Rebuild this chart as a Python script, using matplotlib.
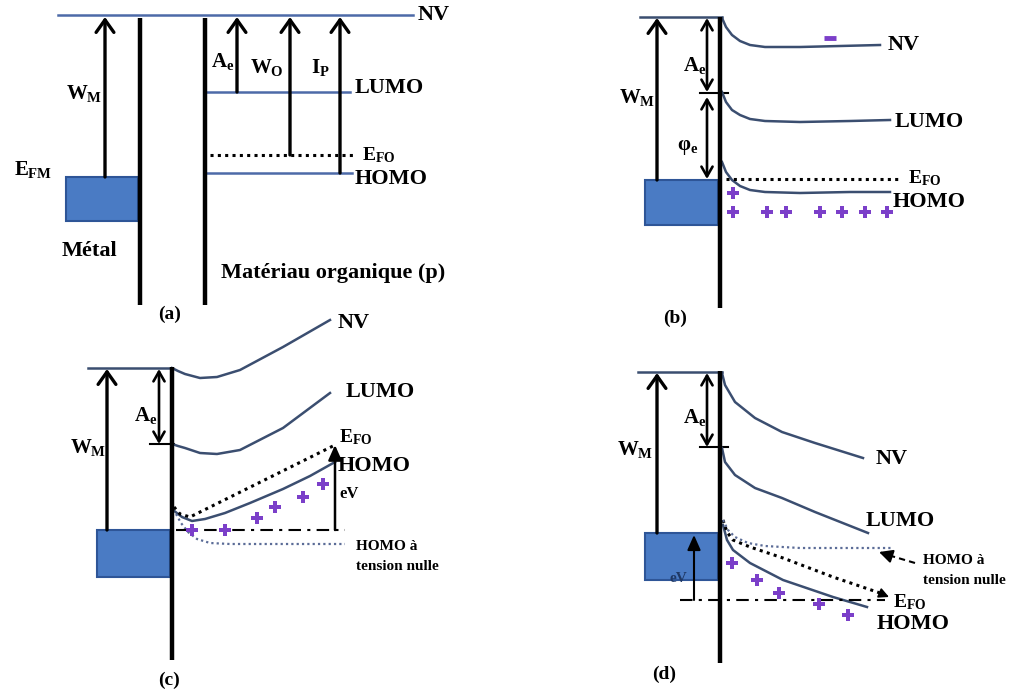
import matplotlib.pyplot as plt

plt.rcParams['font.family'] = ['Liberation Serif', 'DejaVu Serif']
plt.rcParams['font.weight'] = 'bold'
plt.rcParams['mathtext.fontset'] = 'custom'
plt.rcParams['mathtext.rm'] = 'Liberation Serif:bold'
plt.rcParams['mathtext.it'] = 'Liberation Serif:bold'
plt.rcParams['mathtext.bf'] = 'Liberation Serif:bold'

LEVEL = '#4d6aa8'
CURVE = '#3b4e70'
METAL = '#4a7bc4'
METAL_EDGE = '#2e5597'
PLUS = '#7b3fc9'
ZERO = '#5b6c97'

# ---- panel (a): flat levels
a_levels_y = {'NV': 15, 'LUMO': 92, 'EFO': 155, 'HOMO': 173}
a_arrows_x = {'WM': 105, 'Ae': 237, 'WO': 290, 'IP': 340}
a_arrows_base = {'WM': 177, 'Ae': 92, 'WO': 155, 'IP': 173}

# ---- panel (b): equilibrium contact
b_nv_x = [722, 726, 732, 740, 750, 765, 800, 840, 880]
b_nv_y = [18, 27, 35, 41, 45, 47, 47, 46, 45]
b_lumo_x = [722, 726, 732, 740, 750, 765, 800, 850, 890]
b_lumo_y = [92, 102, 110, 115, 119, 121, 122, 121, 120]
b_homo_x = [722, 726, 732, 740, 750, 765, 800, 850, 890]
b_homo_y = [162, 172, 180, 186, 190, 192, 193, 192, 192]
b_plus_x = [733, 733, 767, 786, 820, 842, 865, 887]
b_plus_y = [193, 212, 212, 212, 212, 212, 212, 212]

# ---- panel (c)
c_nv_x = [172, 178, 185, 200, 217, 240, 283, 330]
c_nv_y = [368, 371, 374, 378, 377, 370, 347, 320]
c_lumo_x = [172, 178, 185, 200, 217, 240, 283, 330]
c_lumo_y = [444, 446, 448, 453, 454, 450, 428, 393]
c_homo_x = [173, 182, 192, 205, 225, 250, 283, 310, 335]
c_homo_y = [510, 517, 521, 519, 513, 503, 489, 476, 462]
c_efo_x = [174, 180, 190, 335]
c_efo_y = [507, 514, 517, 445]
c_zero_x = [176, 181, 188, 197, 210, 230, 345]
c_zero_y = [514, 523, 532, 539, 543, 544, 544]
c_plus_x = [192, 225, 257, 275, 303, 323]
c_plus_y = [530, 530, 518, 507, 497, 484]

# ---- panel (d)
d_nv_x = [722, 725, 735, 755, 782, 815, 863]
d_nv_y = [373, 385, 402, 418, 432, 443, 458]
d_lumo_x = [722, 725, 735, 755, 782, 815, 868]
d_lumo_y = [448, 462, 475, 488, 498, 512, 533]
d_homo_x = [723, 727, 733, 750, 783, 833, 867]
d_homo_y = [525, 540, 550, 563, 580, 597, 607]
d_efo_x = [723, 727, 733, 750, 783, 833, 880]
d_efo_y = [520, 532, 540, 547, 558, 577, 593]
d_zero_x = [723, 728, 735, 748, 765, 800, 893]
d_zero_y = [520, 530, 537, 543, 546, 548, 548]
d_plus_x = [732, 757, 779, 819, 848]
d_plus_y = [563, 580, 593, 604, 615]

fig = plt.figure(figsize=(10.11, 6.95), dpi=100)
ax = fig.add_axes([0, 0, 1, 1])
ax.set_xlim(0, 1011)
ax.set_ylim(695, 0)
ax.axis('off')


def arrow(x0, y0, x1, y1, style='->', lw=2.4, hl=0.45, hw=0.32, color='k'):
    ax.annotate('', xy=(x1, y1), xytext=(x0, y0),
                arrowprops=dict(arrowstyle=f'{style},head_length={hl},head_width={hw}',
                                lw=lw, color=color, shrinkA=0, shrinkB=0,
                                mutation_scale=20))


def label(x, y, s, size=16, **kw):
    ax.text(x, y, s, fontsize=size, fontweight='bold', ha='left', va='center', **kw)


def mlabel(x, y, s, size=15, **kw):
    label(x, y, s, size=size, **kw)


def metal(x0, x1, y0, y1):
    ax.add_patch(plt.Rectangle((x0, y0), x1 - x0, y1 - y0, facecolor=METAL,
                               edgecolor=METAL_EDGE, lw=1.5, zorder=1))


def bar(x, y0, y1):
    ax.plot([x, x], [y0, y1], color='k', lw=3.2, solid_capstyle='butt', zorder=3)


def dotted(xs, ys, lw=2.2, color='k'):
    ax.plot(xs, ys, color=color, lw=lw, linestyle=(0, (1, 1.4)), zorder=2)


def dashdot(x0, x1, y):
    ax.plot([x0, x1], [y, y], color='k', lw=1.5, linestyle=(0, (6, 3, 1.5, 3)), zorder=2)


def pluses(xs, ys):
    ax.plot(xs, ys, 'P', color=PLUS, ms=9, mew=0, zorder=4)


# ================= (a)
ax.plot([58, 413], [a_levels_y['NV']] * 2, color=LEVEL, lw=1.8)
label(418, 15, 'NV')
bar(140, 18, 305)
bar(205, 18, 305)
metal(66, 138, 177, 221)
for key in ['WM', 'Ae', 'WO', 'IP']:
    arrow(a_arrows_x[key], a_arrows_base[key], a_arrows_x[key], 17)
ax.plot([207, 350], [a_levels_y['LUMO']] * 2, color=LEVEL, lw=1.8)
ax.plot([207, 352], [a_levels_y['HOMO']] * 2, color=LEVEL, lw=1.8)
dotted([210, 355], [a_levels_y['EFO']] * 2)
label(355, 88, 'LUMO')
mlabel(362, 155, r'$E_{FO}$', size=14)
label(355, 179, 'HOMO')
mlabel(66, 93, r'$W_M$')
mlabel(14, 170, r'$E_{FM}$')
mlabel(211, 62, r'$A_e$')
mlabel(250, 67, r'$W_O$')
mlabel(311, 67, r'$I_P$')
label(62, 251, 'Métal')
label(221, 273, 'Matériau organique (p)')
label(158, 314, '(a)', size=14)

# ================= (b)
ax.plot([640, 722], [17, 17], color=CURVE, lw=1.8)
bar(720, 17, 308)
metal(645, 718, 180, 225)
arrow(657, 180, 657, 18)
arrow(707, 18, 707, 92, style='<->', lw=1.9, hl=0.35, hw=0.2)
arrow(707, 97, 707, 179, style='<->', lw=1.9, hl=0.35, hw=0.2)
ax.plot([700, 728], [93, 93], color='k', lw=1.5)
ax.plot(b_nv_x, b_nv_y, color=CURVE, lw=1.8)
ax.plot(b_lumo_x, b_lumo_y, color=CURVE, lw=1.8)
ax.plot(b_homo_x, b_homo_y, color=CURVE, lw=1.8)
dotted([726, 900], [179, 179])
pluses(b_plus_x, b_plus_y)
ax.plot([830], [38], '_', color=PLUS, ms=8, mew=3.5)
label(888, 45, 'NV')
label(895, 122, 'LUMO')
mlabel(908, 178, r'$E_{FO}$', size=14)
label(893, 202, 'HOMO')
mlabel(619, 97, r'$W_M$')
mlabel(683, 65, r'$A_e$')
mlabel(677, 147, r'$\varphi_e$')
label(663, 318, '(b)', size=14)

# ================= (c)
ax.plot([88, 172], [368, 368], color=CURVE, lw=1.8)
bar(172, 367, 660)
metal(97, 170, 530, 577)
arrow(107, 530, 107, 369)
arrow(159, 369, 159, 444, style='<->', lw=1.9, hl=0.35, hw=0.2)
ax.plot([150, 174], [444, 444], color='k', lw=1.5)
ax.plot(c_nv_x, c_nv_y, color=CURVE, lw=1.8)
ax.plot(c_lumo_x, c_lumo_y, color=CURVE, lw=1.8)
ax.plot(c_homo_x, c_homo_y, color=CURVE, lw=1.8)
dotted(c_efo_x, c_efo_y)
dotted(c_zero_x, c_zero_y, lw=1.6, color=ZERO)
dashdot(176, 345, 530)
arrow(335, 530, 335, 445, style='-|>', lw=1.8, hl=0.45, hw=0.2)
pluses(c_plus_x, c_plus_y)
label(338, 323, 'NV')
label(346, 392, 'LUMO')
mlabel(339, 437, r'$E_{FO}$', size=14)
label(338, 466, 'HOMO')
mlabel(70, 448, r'$W_M$')
mlabel(134, 416, r'$A_e$')
label(339, 494, 'eV', size=12)
label(356, 546, 'HOMO à', size=11)
label(356, 566, 'tension nulle', size=11)
label(158, 680, '(c)', size=14)

# ================= (d)
ax.plot([638, 722], [372, 372], color=CURVE, lw=1.8)
bar(720, 371, 663)
metal(645, 718, 533, 580)
arrow(657, 533, 657, 373)
arrow(707, 373, 707, 447, style='<->', lw=1.9, hl=0.35, hw=0.2)
ax.plot([700, 728], [447, 447], color='k', lw=1.5)
ax.plot(d_nv_x, d_nv_y, color=CURVE, lw=1.8)
ax.plot(d_lumo_x, d_lumo_y, color=CURVE, lw=1.8)
ax.plot(d_homo_x, d_homo_y, color=CURVE, lw=1.8)
dotted(d_efo_x, d_efo_y)
dotted(d_zero_x, d_zero_y, lw=1.6, color=ZERO)
dashdot(680, 885, 600)
arrow(694, 600, 694, 535, style='-|>', lw=1.5, hl=0.45, hw=0.2)
arrow(882, 594, 889, 597, style='-|>', lw=1.2, hl=0.3, hw=0.15)
ax.plot([915, 888], [563, 555], color='k', lw=1.5, linestyle=(0, (3, 2)))
arrow(888, 555, 879, 552, style='-|>', lw=1.5, hl=0.4, hw=0.2)
pluses(d_plus_x, d_plus_y)
label(876, 459, 'NV')
label(866, 521, 'LUMO')
label(923, 561, 'HOMO à', size=11)
label(923, 581, 'tension nulle', size=11)
mlabel(893, 602, r'$E_{FO}$', size=14)
label(877, 624, 'HOMO')
mlabel(617, 449, r'$W_M$')
mlabel(683, 417, r'$A_e$')
label(670, 578, 'eV', size=11, color='#1f3864')
label(652, 674, '(d)', size=14)

fig.savefig('out.png', dpi=100)
